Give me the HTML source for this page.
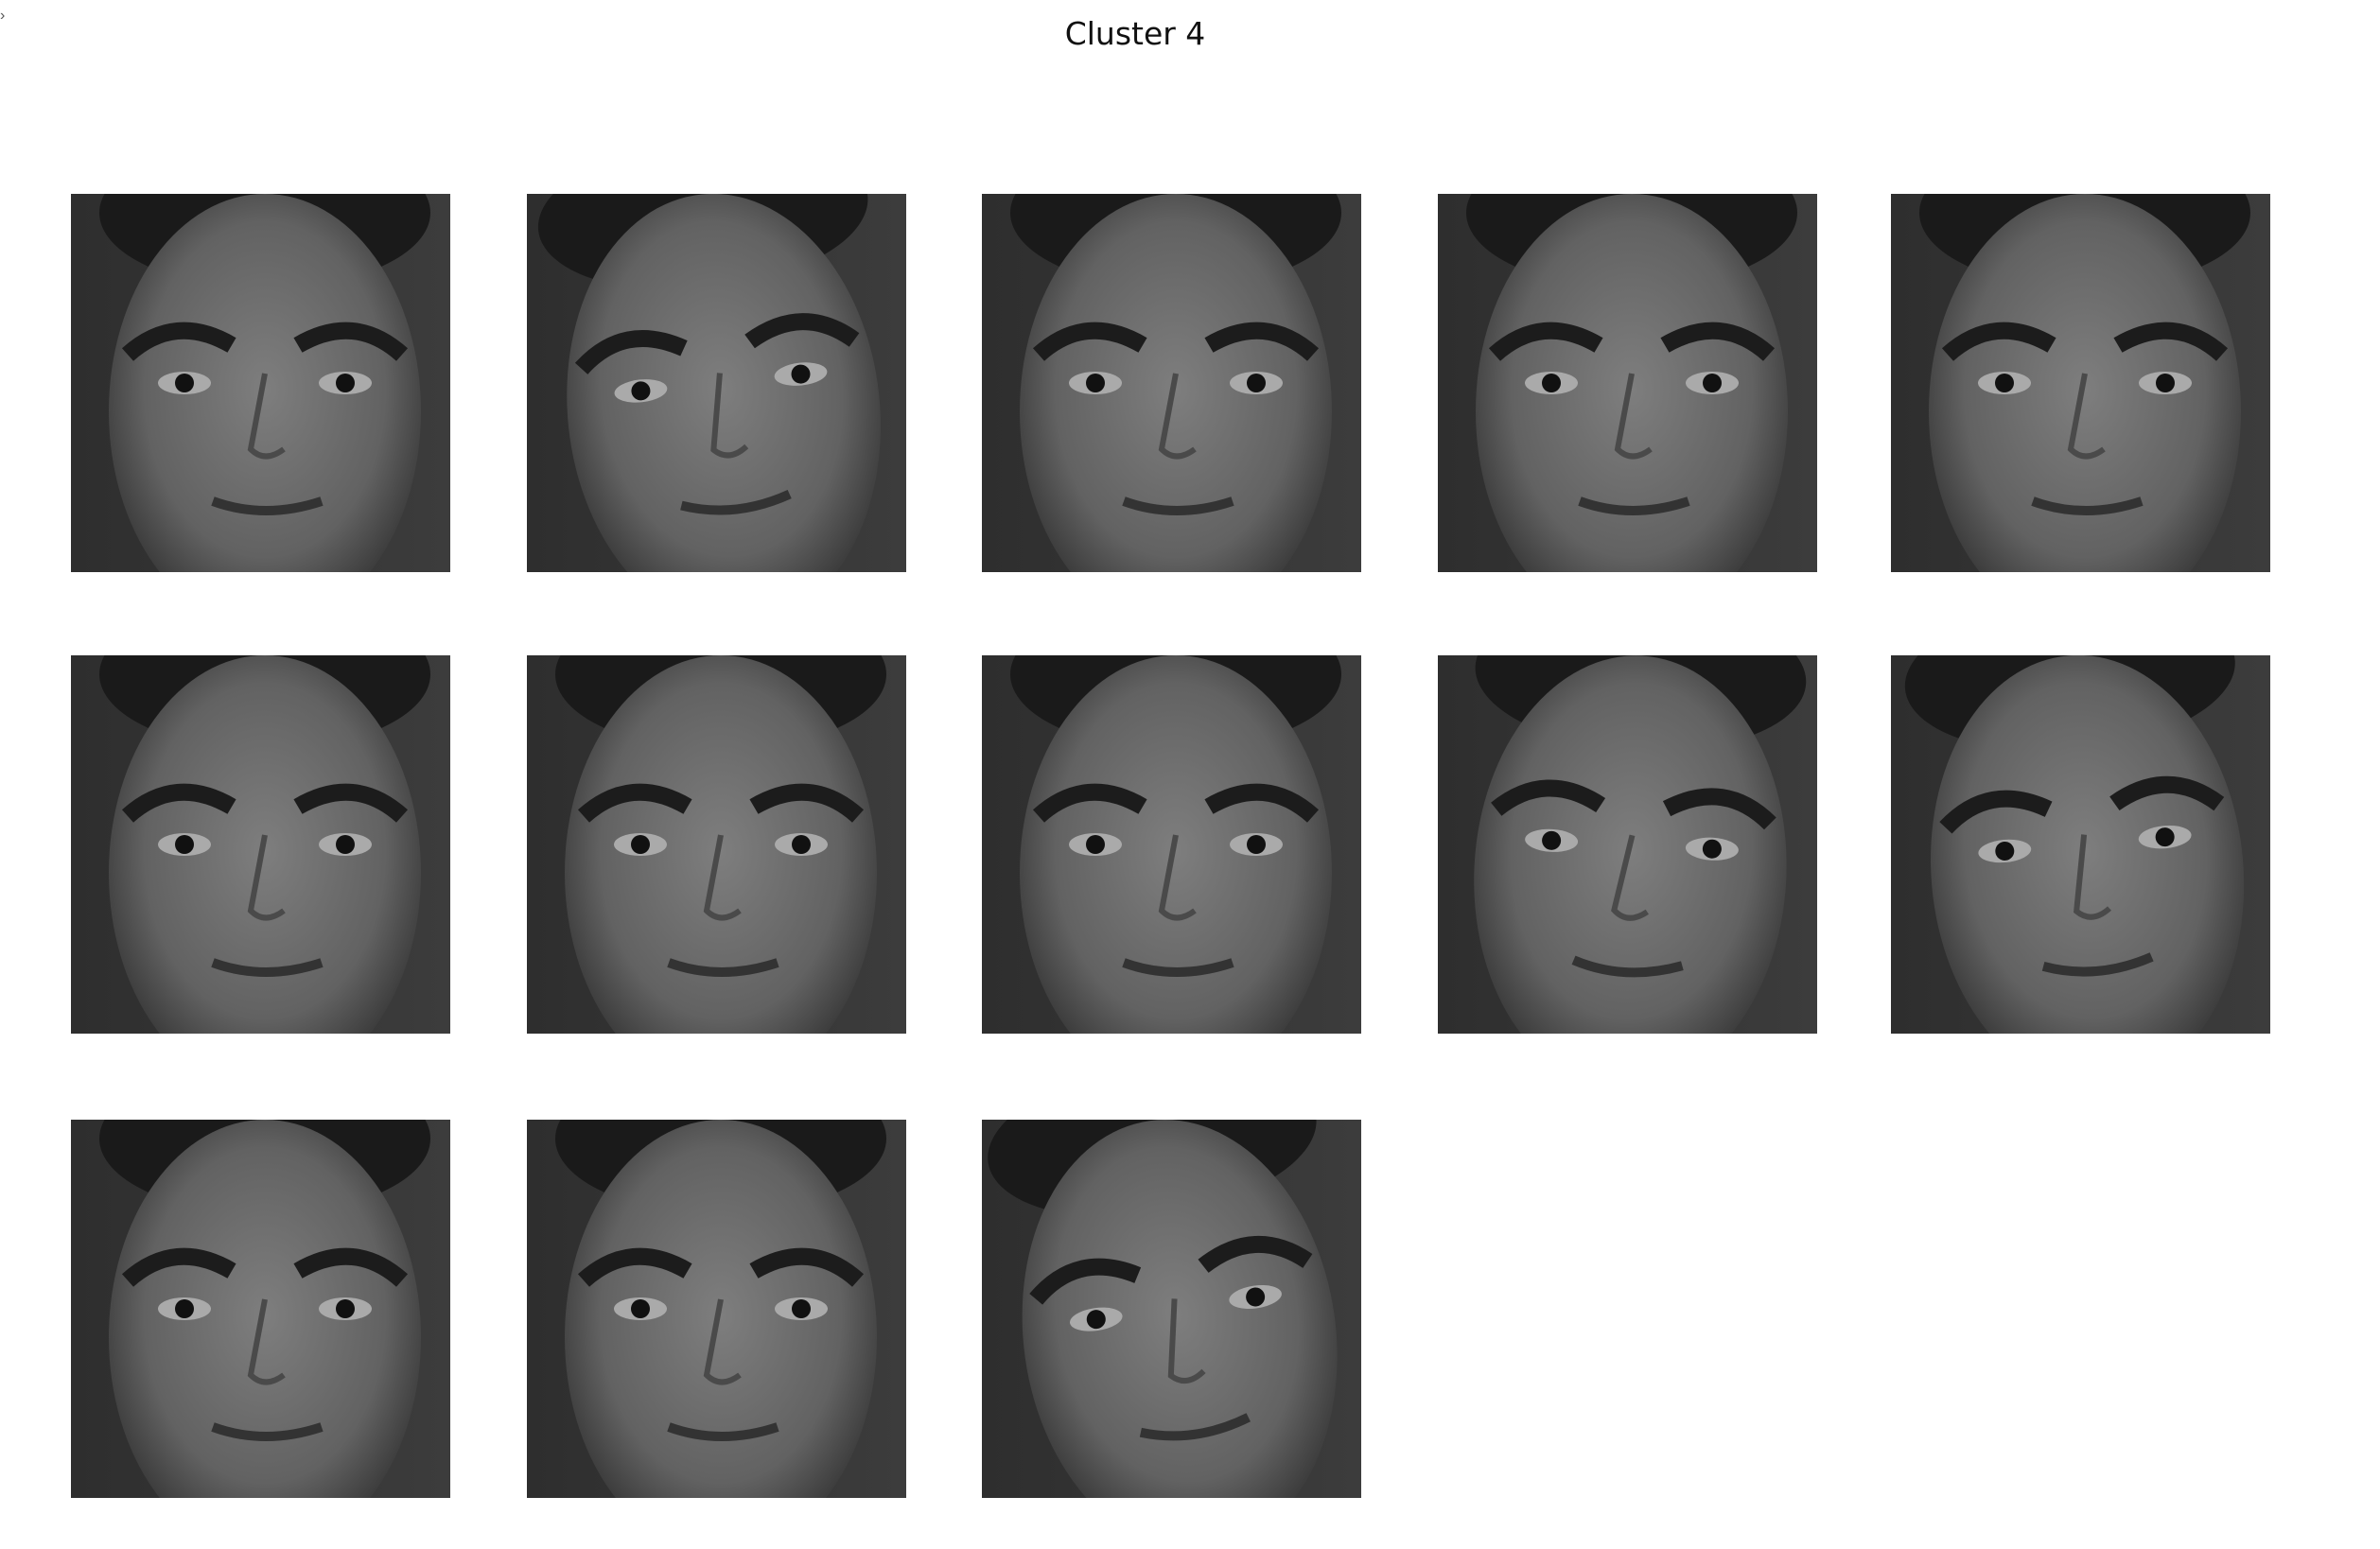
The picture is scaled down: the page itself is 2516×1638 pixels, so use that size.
<!DOCTYPE html>
<html><head><meta charset="utf-8"><style>
html,body{margin:0;padding:0;background:#fff;width:2516px;height:1638px;overflow:hidden;font-family:"Liberation Sans","DejaVu Sans",sans-serif;}
#title{position:absolute;left:0;width:2400px;top:16px;text-align:center;font-family:"DejaVu Sans",sans-serif;font-size:33px;color:#111;}
#corner{position:absolute;left:0;top:8px;font-size:16px;color:#555;}
svg{position:absolute;left:0;top:0;}
</style></head><body>
<div id="corner">›</div>
<div id="title">Cluster 4</div>
<svg id="fig" width="2516" height="1638">
<defs>
<radialGradient id="skin" cx="50%" cy="45%" r="55%"><stop offset="0" stop-color="#7e7e7e"/><stop offset="0.7" stop-color="#626262"/><stop offset="1" stop-color="#3a3a3a"/></radialGradient>
<linearGradient id="bg" x1="0" x2="1"><stop offset="0" stop-color="#2e2e2e"/><stop offset="1" stop-color="#3c3c3c"/></linearGradient>
<clipPath id="clip"><rect x="0" y="0" width="401" height="400"/></clipPath>
</defs>
</svg>
<script>
const faceIds=[1,2,3,4,5,6,7,8,9,10,11,12,13];
const headTilt=[0,-6,0,0,0,0,0,0,3,-5,0,0,-8];
const cols=[75,557,1038,1520,1999];
const rows=[205,693,1184];
const S=401;
const ns='http://www.w3.org/2000/svg';
const svg=document.getElementById('fig');
function el(t,a,p){const e=document.createElementNS(ns,t);for(const k in a)e.setAttribute(k,a[k]);p.appendChild(e);return e;}
faceIds.forEach((id,i)=>{
  const x=cols[i%5], y=rows[Math.floor(i/5)];
  const g=el('g',{transform:`translate(${x},${y})`,'clip-path':'url(#clip)'},svg);
  
  
  el('rect',{x:0,y:0,width:S,height:400,fill:'url(#bg)'},g);
  const f=el('g',{transform:`rotate(${headTilt[i]} 200 200)`},g);
  el('ellipse',{cx:205,cy:20,rx:175,ry:80,fill:'#1a1a1a'},f);
  el('ellipse',{cx:205,cy:230,rx:165,ry:230,fill:'url(#skin)'},f);
  el('path',{d:'M60 170 Q110 125 170 160',stroke:'#1c1c1c','stroke-width':18,fill:'none'},f);
  el('path',{d:'M240 160 Q300 125 350 170',stroke:'#1c1c1c','stroke-width':18,fill:'none'},f);
  el('ellipse',{cx:120,cy:200,rx:28,ry:12,fill:'#aaa'},f);
  el('ellipse',{cx:290,cy:200,rx:28,ry:12,fill:'#aaa'},f);
  el('circle',{cx:120,cy:200,r:10,fill:'#111'},f);
  el('circle',{cx:290,cy:200,r:10,fill:'#111'},f);
  el('path',{d:'M205 190 L190 270 Q205 285 225 270',stroke:'#4a4a4a','stroke-width':6,fill:'none'},f);
  el('path',{d:'M150 325 Q205 345 265 325',stroke:'#333','stroke-width':10,fill:'none'},f);
});
</script>
</body></html>
